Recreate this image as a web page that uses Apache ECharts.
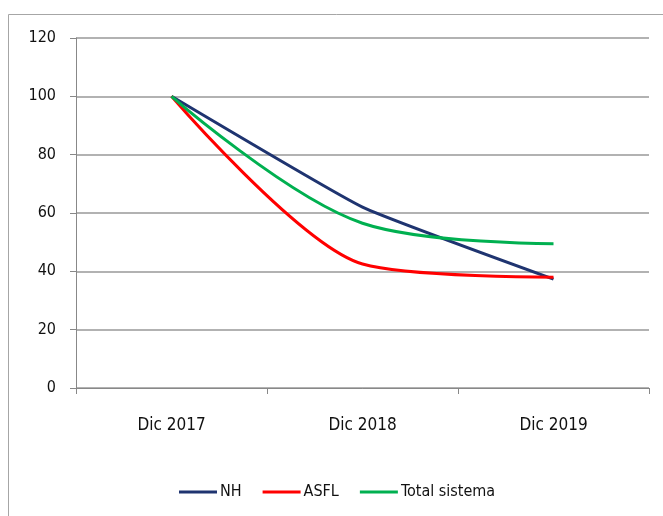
<!DOCTYPE html>
<html><head><meta charset="utf-8">
<script src="https://cdn.jsdelivr.net/npm/echarts@6/dist/echarts.min.js"></script>
<style>html,body{margin:0;padding:0;background:#fff}#c{width:663px;height:516px}</style>
</head><body><div id="c"></div>
<script>
const categories = ['Dic 2017', 'Dic 2018', 'Dic 2019'];
const nhValues = [100, 62, 37.3];
const asflValues = [100, 42.5, 38];
const totalValues = [100, 56.5, 49.5];
const yTicks = [0, 20, 40, 60, 80, 100, 120];

const FONT = '"DejaVu Sans Condensed", "DejaVu Sans", sans-serif';
const chart = echarts.init(document.getElementById('c'), null, {renderer: 'canvas'});
chart.setOption({
  animation: false,
  backgroundColor: '#fff',
  graphic: [{type: 'rect', shape: {x: 8.5, y: 14.5, width: 700, height: 600}, style: {fill: 'none', stroke: '#a6a6a6', lineWidth: 1}, silent: true}],
  grid: {left: 76, right: 14, top: 38, bottom: 128, containLabel: false},
  legend: {
    top: 479, left: 174, itemWidth: 38, itemHeight: 3, itemGap: 21,
    icon: 'rect',
    textStyle: {fontFamily: FONT, fontSize: 16, color: '#111', padding: [0, 0, 0, -2]},
    data: ['NH', 'ASFL', 'Total sistema']
  },
  xAxis: {
    type: 'category', data: categories, boundaryGap: true,
    axisLine: {lineStyle: {color: '#888', width: 1}},
    axisTick: {show: true, length: 6, lineStyle: {color: '#888'}},
    axisLabel: {fontFamily: FONT, fontSize: 17, color: '#111', margin: 29}
  },
  yAxis: {
    type: 'value', min: yTicks[0], max: yTicks[yTicks.length - 1], interval: 20,
    axisLine: {show: true, lineStyle: {color: '#888', width: 1}},
    axisTick: {show: true, length: 6, lineStyle: {color: '#888'}},
    axisLabel: {fontFamily: FONT, fontSize: 16, color: '#111', margin: 20},
    splitLine: {lineStyle: {color: '#999', width: 1.5}}
  },
  series: [
    {name: 'NH', type: 'line', data: nhValues, smooth: 0.12, showSymbol: false, symbol: 'none', lineStyle: {color: '#1f3470', width: 3}, itemStyle: {color: '#1f3470'}},
    {name: 'ASFL', type: 'line', data: asflValues, smooth: 0.28, showSymbol: false, symbol: 'none', lineStyle: {color: '#ff0000', width: 3}, itemStyle: {color: '#ff0000'}},
    {name: 'Total sistema', type: 'line', data: totalValues, smooth: 0.35, showSymbol: false, symbol: 'none', lineStyle: {color: '#00b050', width: 3}, itemStyle: {color: '#00b050'}}
  ]
});
</script></body></html>
